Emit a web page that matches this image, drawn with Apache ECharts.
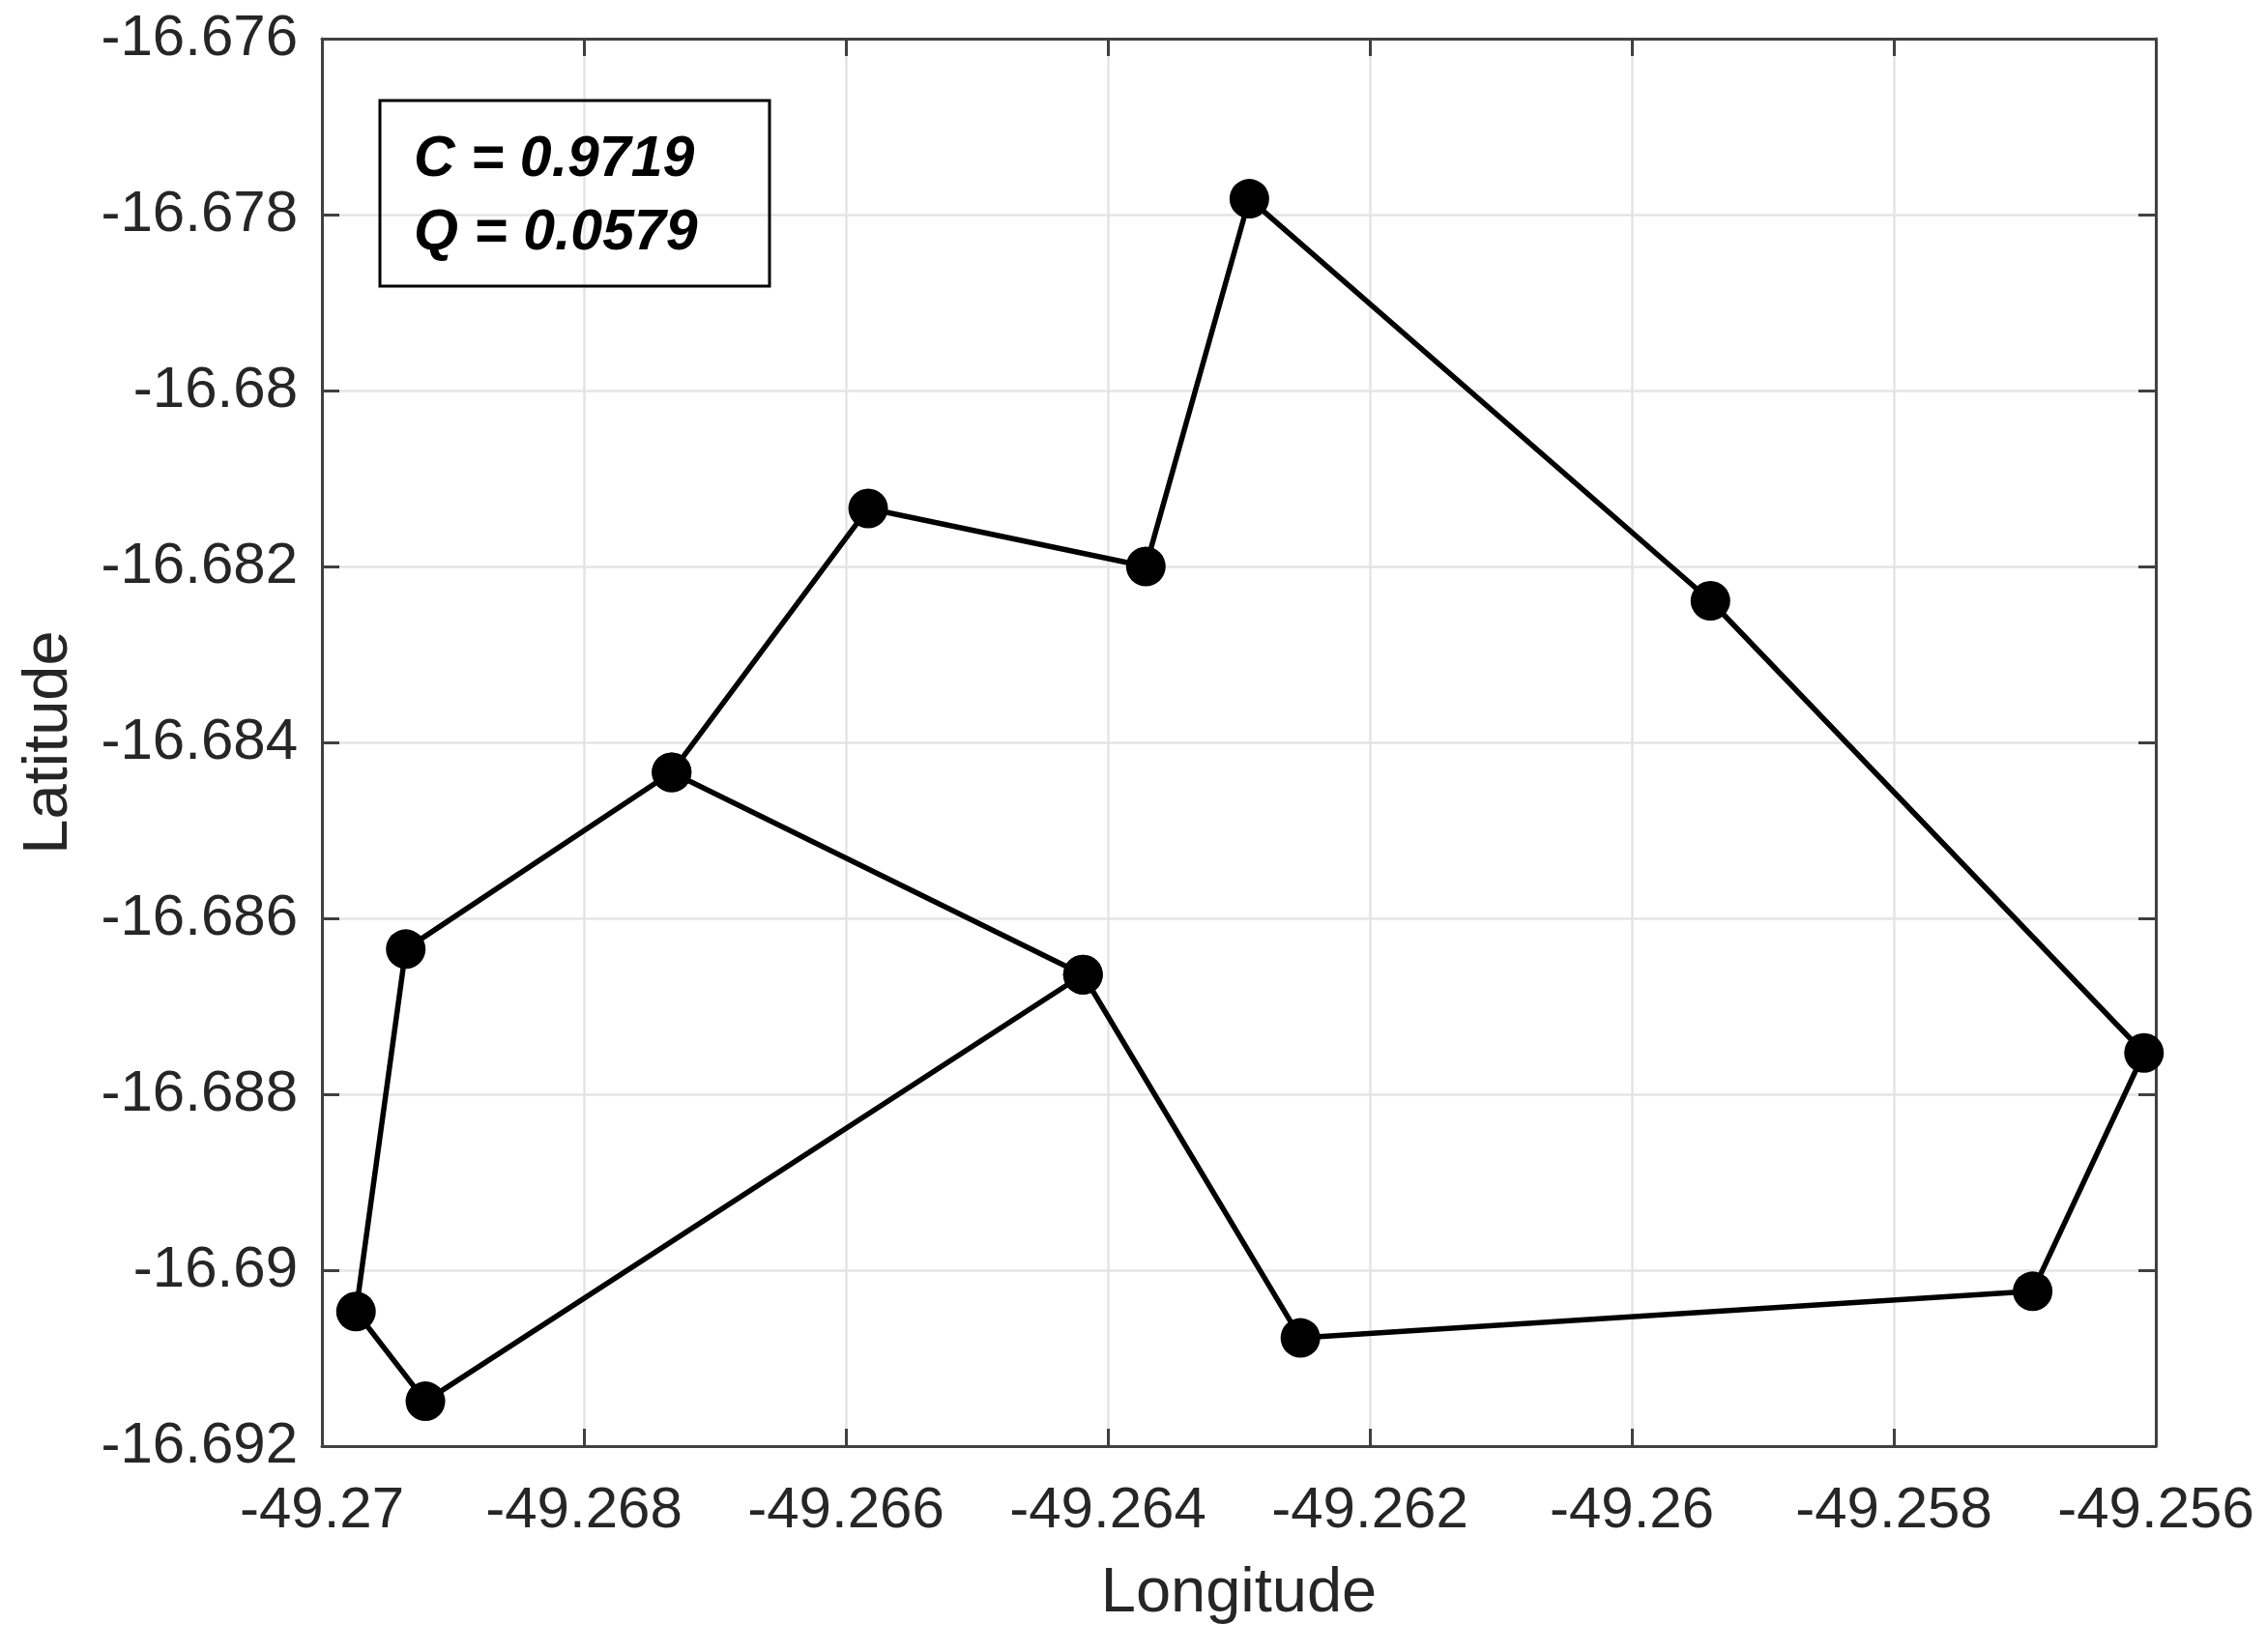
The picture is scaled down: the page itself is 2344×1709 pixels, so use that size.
<!DOCTYPE html>
<html lang="en">
<head>
    <meta charset="UTF-8">
    <title>echarts</title>
    <script src="https://cdn.jsdelivr.net/npm/echarts@6/dist/echarts.min.js"></script>
    <style>
        html, body { margin: 0; padding: 0; background: #fff; }
        #main { width: 2344px; height: 1709px; }
    </style>
</head>
<body>
<div id="main"></div>
<script type="text/javascript">
    // route points, in drawing order
    var longitude = [-49.26733, -49.26419, -49.26921, -49.26974, -49.26936, -49.26733, -49.26583,
        -49.26371, -49.26292, -49.25940, -49.25609, -49.25694, -49.26253, -49.26419];
    var latitude = [-16.68434, -16.68664, -16.69149, -16.69047, -16.68635, -16.68434, -16.68134,
        -16.68200, -16.67782, -16.68239, -16.68753, -16.69024, -16.69077, -16.68664];
    var xRange = [-49.27, -49.256];
    var yRange = [-16.692, -16.676];
    var tickStep = 0.002;
    var noteLines = ['C = 0.9719', 'Q = 0.0579'];

    var FONT = '"Liberation Sans", Arial, sans-serif';
    var AXIS_COLOR = '#404040';
    var TEXT_COLOR = '#262626';

    var points = longitude.map(function (lon, i) {
        return [lon, latitude[i]];
    });

    function makeAxis(range, position, main, name, nameGap) {
        var isBottom = position === 'bottom';
        return {
            type: 'value',
            position: position,
            min: range[0],
            max: range[1],
            interval: tickStep,
            scale: true,
            name: main ? name : '',
            nameLocation: 'middle',
            nameGap: nameGap,
            nameTextStyle: { fontFamily: FONT, fontSize: 65, color: TEXT_COLOR },
            axisLine: { show: true, onZero: false, lineStyle: { color: AXIS_COLOR, width: 3 } },
            axisTick: { show: true, inside: true, length: 18, lineStyle: { color: AXIS_COLOR, width: 3 } },
            axisLabel: {
                show: main,
                fontFamily: FONT,
                fontSize: 60,
                color: TEXT_COLOR,
                margin: isBottom ? 37 : 25,
                padding: isBottom ? 0 : [11, 0, 0, 0]
            },
            splitLine: { show: main, lineStyle: { color: '#e4e4e4', width: 2.5 } }
        };
    }

    var myChart = echarts.init(document.getElementById('main'));
    var option = {
        animation: false,
        backgroundColor: '#fff',
        grid: { left: 333, right: 114, top: 40, bottom: 213 },
        xAxis: [
            makeAxis(xRange, 'bottom', true, 'Longitude', 121),
            makeAxis(xRange, 'top', false)
        ],
        yAxis: [
            makeAxis(yRange, 'left', true, 'Latitude', 249),
            makeAxis(yRange, 'right', false)
        ],
        series: [{
            type: 'line',
            clip: false,
            showSymbol: true,
            symbol: 'circle',
            symbolSize: 41,
            itemStyle: { color: '#000' },
            lineStyle: { color: '#000', width: 5.5 },
            data: points
        }],
        graphic: [{
            type: 'rect',
            z: 10,
            shape: { x: 393, y: 104, width: 403, height: 192 },
            style: { fill: 'rgba(255,255,255,0)', stroke: '#000', lineWidth: 3 }
        }, {
            type: 'text',
            z: 11,
            x: 428,
            y: 166,
            style: { text: noteLines[0], fill: '#000', font: 'italic bold 59px ' + FONT, textVerticalAlign: 'middle' }
        }, {
            type: 'text',
            z: 11,
            x: 428,
            y: 242,
            style: { text: noteLines[1], fill: '#000', font: 'italic bold 59px ' + FONT, textVerticalAlign: 'middle' }
        }]
    };
    myChart.setOption(option);
</script>
</body>
</html>
